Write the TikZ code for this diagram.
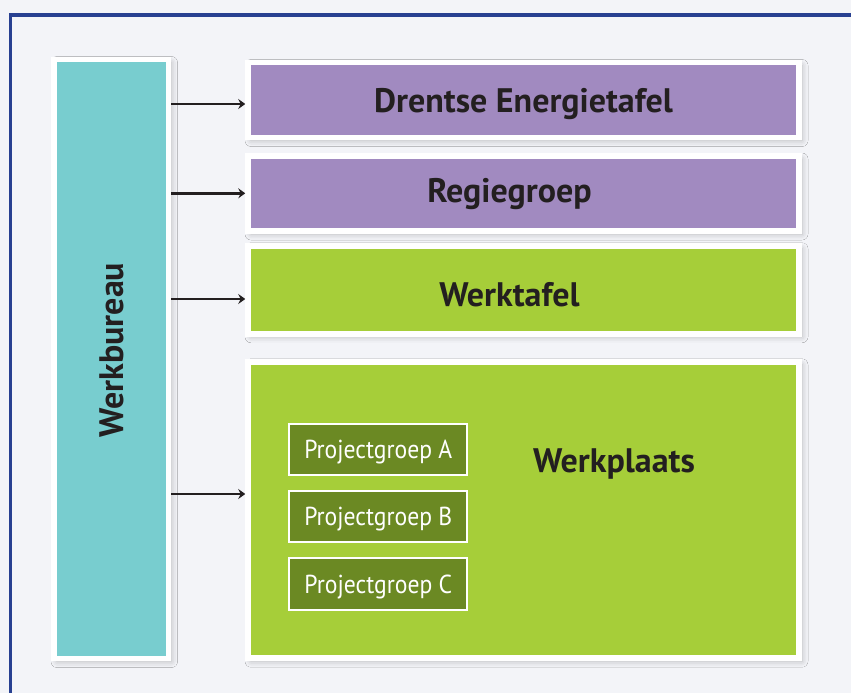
\documentclass[tikz,border=0pt]{standalone}
\usepackage{fontspec}
\setmainfont{PT Sans}
\newfontfamily\narrowfont[FakeStretch=0.91]{PT Sans}
\usepackage{tikz}
\usetikzlibrary{shapes,arrows.meta,backgrounds,shadows.blur}

\definecolor{frameblue}{RGB}{40,64,145}
\definecolor{bgcol}{RGB}{243,244,248}
\definecolor{tealbox}{RGB}{120,205,207}
\definecolor{purplebox}{RGB}{161,138,192}
\definecolor{greenbox}{RGB}{166,206,57}
\definecolor{darkgreen}{RGB}{107,137,35}
\definecolor{inkdark}{RGB}{35,31,32}

\begin{document}
\begin{tikzpicture}[x=1pt,y=-1pt,
  box/.style={draw=white,line width=5.5pt,shape=rectangle,inner sep=0pt,
    blur shadow={shadow xshift=3pt,shadow yshift=-3pt,shadow blur radius=6pt,shadow opacity=25}},
  subbox/.style={draw=white,line width=2pt,fill=darkgreen,shape=rectangle,inner sep=0pt,
    minimum width=178pt,minimum height=51.3pt,text height=18pt,text depth=0pt,
    text=white,font=\narrowfont\fontsize{26}{30}\selectfont},
  title/.style={text=inkdark,inner sep=0pt,text height=23pt,text depth=0pt,
    font=\bfseries\fontsize{34}{40}\selectfont},
  vtitle/.style={text=inkdark,inner sep=0pt,font=\bfseries\fontsize{34}{40}\selectfont},
  conn/.style={draw=inkdark,line width=2.5pt,-{Stealth[length=7pt,width=10pt,inset=2.5pt]}}]

  \clip (0,0) rectangle (851,693);
  \fill[bgcol] (0,0) rectangle (851,693);
  \draw[frameblue,line width=3.5pt] (10.3,700) -- (10.3,15) -- (860,15);

  % Specification of nodes (position, etc.)
  \node[box,fill=tealbox,minimum width=114.5pt,minimum height=599pt] (werkbureau) at (111.25,359) {};
  \node[box,fill=purplebox,minimum width=551pt,minimum height=75pt] (drentse) at (523.5,100) {};
  \node[box,fill=purplebox,minimum width=551pt,minimum height=75pt] (regiegroep) at (523.5,193.5) {};
  \node[box,fill=greenbox,minimum width=551pt,minimum height=88pt] (werktafel) at (523.5,289.75) {};
  \node[box,fill=greenbox,minimum width=551pt,minimum height=296.4pt] (werkplaats) at (523.5,510) {};

  \node[subbox] (groepA) at (378.3,449.3) {Projectgroep A};
  \node[subbox] (groepB) at (378.3,516.7) {Projectgroep B};
  \node[subbox] (groepC) at (378.3,584) {Projectgroep C};

  % Texts
  \node[vtitle] (werkbureautext) at (111.7,350) {\rotatebox{90}{Werkbureau}};
  \node[title] (drentsetext) at (523.5,100.5) {Drentse Energietafel};
  \node[title] (regietext) at (509.5,190.8) {Regiegroep};
  \node[title] (werktafeltext) at (509.5,294.7) {Werktafel};
  \node[title] (werkplaatstext) at (614,461) {Werkplaats};

  % Connectors
  \coordinate (in1) at (drentse.west |- 0,104);
  \coordinate (in2) at (regiegroep.west |- 0,193.3);
  \coordinate (in3) at (werktafel.west |- 0,299);
  \coordinate (in4) at (werkplaats.west |- 0,494);
  \begin{scope}[conn]
    \draw (werkbureau.east |- in1) -- (in1);
    \draw (werkbureau.east |- in2) -- (in2);
    \draw (werkbureau.east |- in3) -- (in3);
    \draw (werkbureau.east |- in4) -- (in4);
  \end{scope}

\end{tikzpicture}
\end{document}
